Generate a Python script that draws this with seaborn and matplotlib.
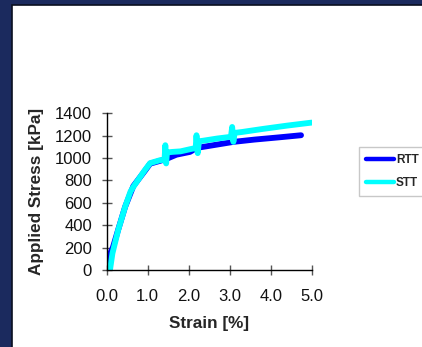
import matplotlib
matplotlib.use("Agg")
import matplotlib.pyplot as plt
import seaborn as sns
import pandas as pd
from matplotlib.patches import Rectangle
from matplotlib.lines import Line2D

# Data
strain_rtt = [0.0, 0.02, 0.06, 0.15, 0.28, 0.45, 0.65, 0.93, 1.06, 1.3, 1.44, 1.7, 2.03, 2.2, 2.6, 3.1, 3.6, 4.2, 4.74]
stress_rtt = [0, 60, 130, 200, 360, 565, 750, 885, 950, 975, 990, 1030, 1055, 1091, 1115, 1145, 1165, 1185, 1204]

strain_stt = [0.08, 0.14, 0.28, 0.45, 0.58, 0.65, 0.93, 1.06, 1.3, 1.41, 1.43, 1.45, 1.47, 1.6, 1.8, 2.03, 2.17, 2.19, 2.22, 2.25, 2.35, 2.7, 3.03, 3.06, 3.09, 3.12, 3.3, 3.8, 4.4, 5.0]
stress_stt = [0, 149, 357, 565, 700, 743, 892, 955, 981, 985, 1115, 952, 1050, 1055, 1060, 1079, 1090, 1204, 1044, 1150, 1155, 1175, 1190, 1278, 1145, 1225, 1233, 1260, 1290, 1317]

series_names = ["RTT", "STT"]
series_colors = ["#0000FF", "#00FFFF"]
x_ticks = [0.0, 1.0, 2.0, 3.0, 4.0, 5.0]
y_ticks = [0, 200, 400, 600, 800, 1000, 1200, 1400]

df = pd.concat([
    pd.DataFrame({"Strain": strain_rtt, "Stress": stress_rtt, "Series": "RTT"}),
    pd.DataFrame({"Strain": strain_stt, "Stress": stress_stt, "Series": "STT"}),
], ignore_index=True)

sns.set_style("white")
plt.rcParams["font.family"] = ["Liberation Sans", "DejaVu Sans"]

fig = plt.figure(figsize=(4.22, 3.47), dpi=100)
fig.patch.set_facecolor("#1b2a5e")
# white panel
fig.patches.append(Rectangle((11.5 / 422, -0.01), 1.0, 1 - 4.5 / 347 + 0.01,
                             transform=fig.transFigure, facecolor="white",
                             edgecolor="#0a0f20", linewidth=1.2, zorder=-5))

ax = fig.add_axes([106.7 / 422, 1 - 270 / 347, (311.7 - 106.7) / 422, (270 - 113.3) / 347])
ax.set_zorder(2)
ax.set_facecolor("none")

sns.lineplot(data=df, x="Strain", y="Stress", hue="Series", hue_order=series_names,
             palette=series_colors, sort=False, estimator=None, units="Series",
             linewidth=4.2, ax=ax, legend=False, solid_capstyle="round", solid_joinstyle="round")

ax.set_xlim(0, 5)
ax.set_ylim(0, 1400)
ax.set_xticks(x_ticks)
ax.set_xticklabels([f"{v:.1f}" for v in x_ticks])
ax.set_yticks(y_ticks)
ax.set_yticklabels([str(v) for v in y_ticks])
for s in ["top", "right"]:
    ax.spines[s].set_visible(False)
for s in ["left", "bottom"]:
    ax.spines[s].set_color("black")
    ax.spines[s].set_linewidth(1.0)
ax.tick_params(axis="both", direction="inout", length=7.2, width=1, color="#555555",
               labelsize=12, labelcolor="#111111", left=True, bottom=True)
ax.tick_params(axis="y", pad=7)
ax.tick_params(axis="x", pad=10)
ax.set_xlabel("Strain [%]", fontsize=12.3, fontweight="bold", labelpad=9)
ax.set_ylabel("Applied Stress [kPa]", fontsize=12.3, fontweight="bold", labelpad=8)

handles = [Line2D([0], [0], color=c, linewidth=3.2) for c in series_colors]
leg = fig.legend(handles, series_names, loc="upper left",
                 bbox_to_anchor=(359 / 422, 1 - 147 / 347), frameon=True, fancybox=False,
                 prop={"family": "Liberation Sans", "weight": "bold", "size": 8.5},
                 handlelength=2.4, handletextpad=0.12,
                 borderpad=0.6, labelspacing=0.9, borderaxespad=0)
leg.set_zorder(3)
leg.get_frame().set_edgecolor("#bbbbbb")
leg.get_frame().set_linewidth(1.0)

fig.savefig("out.png", dpi=100, facecolor=fig.get_facecolor())
